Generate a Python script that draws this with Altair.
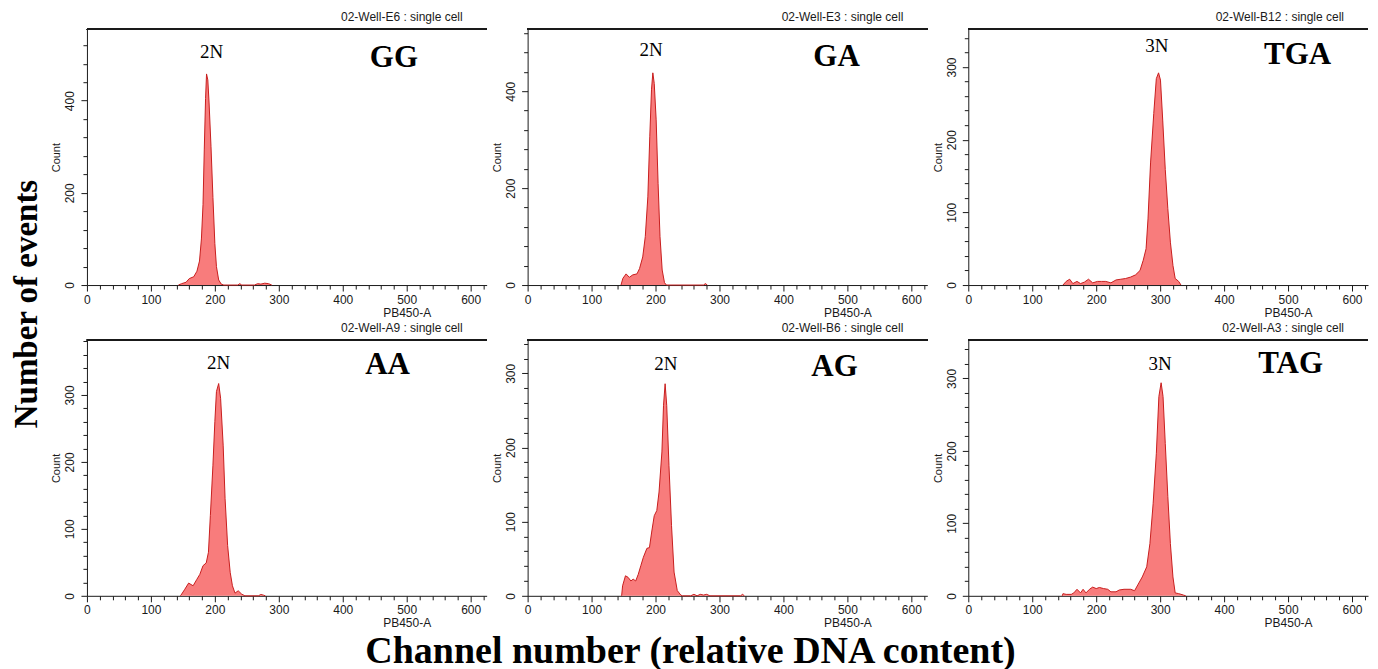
import altair as alt
import pandas as pd

# ---------------- data ----------------
gg_x = [143, 148, 155, 160, 167, 172, 176, 179, 181.5, 183.5, 185.5, 187, 189, 191, 194, 197, 200, 202.5, 206, 210, 214, 236, 239, 242, 262, 267, 272, 278, 284, 289]
gg_y = [0, 3, 6, 14, 18, 30, 52, 100, 175, 295, 405, 458, 445, 395, 300, 190, 90, 40, 11, 2, 0, 0, 3, 0, 0, 3, 2, 4, 3, 0]

ga_x = [146, 149, 154, 159, 164.5, 171, 175, 180, 184, 188, 191, 193.7, 195.8, 198, 201, 204, 207, 210.4, 214, 217, 275, 278, 281]
ga_y = [0, 14, 23, 16, 21, 23, 34, 58, 100, 182, 306, 403, 438, 416, 341, 210, 100, 31, 5, 0, 0, 3, 0]

tga_x = [148, 153, 158.5, 163.5, 170, 175.5, 181.5, 188, 194.5, 202, 208.5, 215, 223, 231, 238.5, 246, 254, 261.5, 268.5, 273.5, 278, 281, 285, 290, 294, 297.5, 300.5, 304, 308, 312, 316, 320, 323.5, 329, 332.5]
tga_y = [0, 5, 8, 2, 5, 2, 4, 8, 3, 5, 5, 5, 3, 7, 8, 9, 11, 14, 20, 34, 50, 91, 168, 236, 284, 292, 282, 227, 159, 105, 59, 27, 9, 5, 0]

aa_x = [146, 147, 152.5, 159, 166, 171.5, 176.5, 181.5, 186.5, 190, 193, 197, 200, 202.5, 206, 209, 213, 216, 220, 224, 227.5, 231.5, 236.5, 242, 247, 268, 272, 276, 279]
aa_y = [0, 1, 9, 19, 15, 24, 32, 45, 49, 65, 120, 195, 260, 305, 317, 295, 225, 145, 75, 35, 15, 4, 7.5, 2.5, 0, 0, 2, 1, 0]

ag_x = [147, 148.5, 153, 157, 161.5, 165, 169, 173, 177, 181, 186.5, 190.5, 194, 198, 202, 205.5, 210, 212.5, 215, 217.5, 221, 225, 229, 234, 239.5, 242, 255, 260, 265, 270, 275, 280, 285, 333, 336, 339]
ag_y = [0, 13.5, 27, 25, 20, 22.5, 20, 29, 40.6, 52, 64, 65, 86, 108, 115, 140, 194, 257, 286, 257, 176, 95, 32, 7, 1, 0, 0, 2, 0, 2, 1, 2, 0, 0, 2, 0]

tag_x = [147, 148, 153, 161, 165, 170, 175.5, 179.5, 184, 189.5, 194.5, 200, 205, 211.5, 218, 223, 231, 236, 243.5, 254, 260, 265, 272, 279, 284, 289, 294, 298, 301.5, 304.5, 308, 312, 316, 320, 323.5, 329, 336.5, 340]
tag_y = [0, 3, 2, 2, 4, 9, 4, 9, 4, 9, 12, 10, 11.5, 10, 9, 5.5, 5.5, 8, 9, 9, 7, 15, 26, 40, 72, 127, 196, 275, 294, 275, 210, 137, 72, 26, 4, 3, 1, 0]

genotypes = ["GG", "GA", "TGA", "AA", "AG", "TAG"]
wells = ["02-Well-E6 : single cell", "02-Well-E3 : single cell", "02-Well-B12 : single cell",
         "02-Well-A9 : single cell", "02-Well-B6 : single cell", "02-Well-A3 : single cell"]
ploidy = ["2N", "2N", "3N", "2N", "2N", "3N"]
series_x = [gg_x, ga_x, tga_x, aa_x, ag_x, tag_x]
series_y = [gg_y, ga_y, tga_y, aa_y, ag_y, tag_y]
y_max = [555, 528, 352, 382, 345, 353]
y_tick_step = [40, 40, 20, 20, 20, 20]
y_label_step = [200, 200, 100, 100, 100, 100]
# annotation anchor points in data units (channel, count)
ploidy_at = [(195, 505), (193, 485), (295, 329), (206, 348), (216, 313), (300, 320)]
name_at = [(480, 492), (483, 470), (515, 316), (470, 345), (480, 308), (504, 320)]

# ---------------- styling ----------------
W, H = 400, 256
SANS = "Liberation Sans"
SERIF = "Liberation Serif"
FILL = "#f87c7c"
STROKE = "#c81e1e"
INK = "#1a1a1a"


def panel(i):
    df = pd.DataFrame({"ch": series_x[i], "count": series_y[i]})
    xs = alt.Scale(domain=[0, 625], nice=False, zero=False)
    ys = alt.Scale(domain=[0, y_max[i]], nice=False)
    lab = y_label_step[i]
    xaxis = alt.Axis(
        values=list(range(0, 621, 20)), tickCount=500, format="d",
        labelExpr="datum.value % 100 == 0 ? datum.label : ''",
        tickSize={"condition": {"test": "datum.value % 100 == 0", "value": 6}, "value": 4},
        labelFlush=False, labelOverlap=False, grid=False,
        domainColor=INK, tickColor=INK, labelColor=INK, labelFont=SANS, labelFontSize=12,
        labelPadding=3,
        title="PB450-A", titleFont=SANS, titleFontSize=12, titleFontWeight="normal",
        titleColor=INK, titleX=320, titleY=27, titleAlign="center", titleBaseline="middle",
    )
    yaxis = alt.Axis(
        values=list(range(0, y_max[i], y_tick_step[i])), tickCount=500, format="d",
        labelExpr=f"datum.value % {lab} == 0 ? datum.label : ''",
        tickSize={"condition": {"test": f"datum.value % {lab} == 0", "value": 6}, "value": 4},
        labelAngle=270, labelAlign="center", labelBaseline="bottom",
        labelFlush=False, labelOverlap=False, grid=False,
        domainColor=INK, tickColor=INK, labelColor=INK, labelFont=SANS, labelFontSize=12,
        labelPadding=4,
        title="Count", titleFont=SANS, titleFontSize=11, titleFontWeight="normal",
        titleColor=INK, titleAngle=270, titleX=-30, titleY=H / 2,
        titleAlign="center", titleBaseline="middle",
    )
    base = alt.Chart(df)
    area = base.mark_area(color=FILL, opacity=1, interpolate="linear").encode(
        x=alt.X("ch:Q", scale=xs, axis=xaxis),
        y=alt.Y("count:Q", scale=ys, axis=yaxis),
    )
    line = base.mark_line(color=STROKE, strokeWidth=1, interpolate="linear").encode(
        x=alt.X("ch:Q", scale=xs, axis=xaxis), y=alt.Y("count:Q", scale=ys, axis=yaxis)
    )
    top = base.mark_rule(color=INK, strokeWidth=1.5).encode(
        x=alt.value(0), x2=alt.value(W), y=alt.value(0)
    )
    ann = pd.DataFrame({
        "ch": [ploidy_at[i][0], name_at[i][0]],
        "count": [ploidy_at[i][1], name_at[i][1]],
        "t": [ploidy[i], genotypes[i]],
        "kind": ["p", "n"],
    })
    p_txt = alt.Chart(ann[ann.kind == "p"]).mark_text(
        font=SERIF, fontSize=19, color="black", baseline="middle", align="center"
    ).encode(x=alt.X("ch:Q", scale=xs, axis=xaxis), y=alt.Y("count:Q", scale=ys, axis=yaxis), text="t:N")
    n_txt = alt.Chart(ann[ann.kind == "n"]).mark_text(
        font=SERIF, fontSize=31, fontWeight="bold", color="black", baseline="middle", align="center"
    ).encode(x=alt.X("ch:Q", scale=xs, axis=xaxis), y=alt.Y("count:Q", scale=ys, axis=yaxis), text="t:N")
    layers = [area, line, top, p_txt, n_txt]
    if i == 0:
        layers.append(
            alt.Chart(pd.DataFrame({"t": ["Number of events"]})).mark_text(
                font=SERIF, fontSize=33, fontWeight="bold", color="black",
                angle=270, align="center", baseline="middle",
            ).encode(text="t:N", x=alt.value(-60), y=alt.value(275))
        )
    if i == 4:
        layers.append(
            alt.Chart(pd.DataFrame({"t": ["Channel number (relative DNA content)"]})).mark_text(
                font=SERIF, fontSize=38, fontWeight="bold", color="black",
                align="center", baseline="alphabetic",
            ).encode(text="t:N", x=alt.value(163), y=alt.value(323))
        )
    return alt.layer(*layers).properties(
        width=W, height=H,
        title=alt.TitleParams(
            wells[i], anchor="end", frame="group", fontSize=12, font=SANS,
            fontWeight="normal", color=INK, dx=-24, offset=4,
        ),
    )


chart = alt.concat(
    *[panel(i) for i in range(6)], columns=3,
    spacing={"row": 55, "column": 41}, bounds="flush",
).configure_view(stroke=None).properties(
    padding={"left": 3, "top": 3, "right": 1, "bottom": 1}
)

chart.save("out.html", embed_options={"renderer": "svg", "actions": False})
